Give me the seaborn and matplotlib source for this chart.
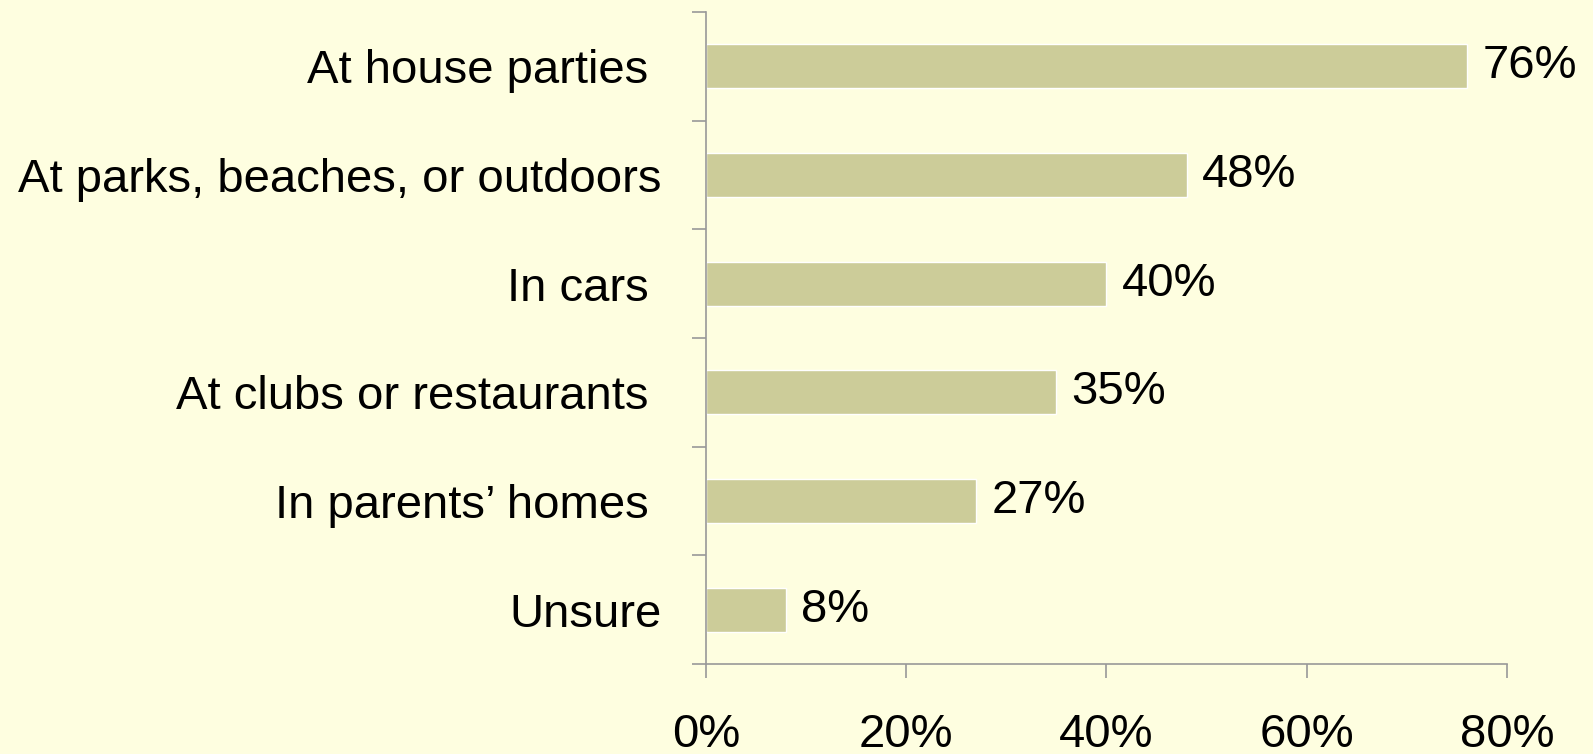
import numpy as np
import pandas as pd
import matplotlib
matplotlib.use('Agg')
import matplotlib.pyplot as plt
import seaborn as sns

categories = ['At house parties ', 'At parks, beaches, or outdoors', 'In cars ',
              'At clubs or restaurants ', 'In parents\u2019 homes ', 'Unsure']
values = [76, 48, 40, 35, 27, 8]
x_ticks = [0, 20, 40, 60, 80]

BG = '#FEFEE0'
BAR = '#CCCC99'
AXIS = '#999999'
FS = 34

sns.set_theme(style='white')
plt.rcParams['font.family'] = ['Liberation Sans', 'DejaVu Sans']

df = pd.DataFrame({'place': categories, 'pct': values})

fig = plt.figure(figsize=(15.93, 7.54), dpi=100, facecolor=BG)
ax = fig.add_axes([0.4432, 0.1194, 0.5028, 0.8647])
ax.set_facecolor(BG)

sns.barplot(data=df, y='place', x='pct', orient='h', color=BAR,
            width=0.405, saturation=1, ax=ax)

for c in ax.containers:
    ax.bar_label(c, labels=[f'{v}%' for v in values], padding=11,
                 fontsize=FS, color='black')

ax.set_xlim(0, 80)
ax.set_ylim(5.5, -0.5)
ax.set_xticks(x_ticks)
ax.set_xticklabels([f'{t}%' for t in x_ticks])
ax.set_yticks(np.arange(-0.5, 6, 1), minor=True)

ax.tick_params(axis='x', which='major', length=10, width=1.2, color=AXIS,
               direction='out', pad=25, labelsize=FS, labelcolor='black', bottom=True)
ax.tick_params(axis='y', which='major', length=0, pad=32, labelsize=FS, labelcolor='black')
ax.tick_params(axis='y', which='minor', length=10, width=1.2, color=AXIS,
               direction='out', left=True)

ax.set_xlabel('')
ax.set_ylabel('')
for s in ['top', 'right']:
    ax.spines[s].set_visible(False)
for s in ['left', 'bottom']:
    ax.spines[s].set_color(AXIS)
    ax.spines[s].set_linewidth(1.2)
ax.grid(False)

fig.savefig('out.png', dpi=100, facecolor=BG)
